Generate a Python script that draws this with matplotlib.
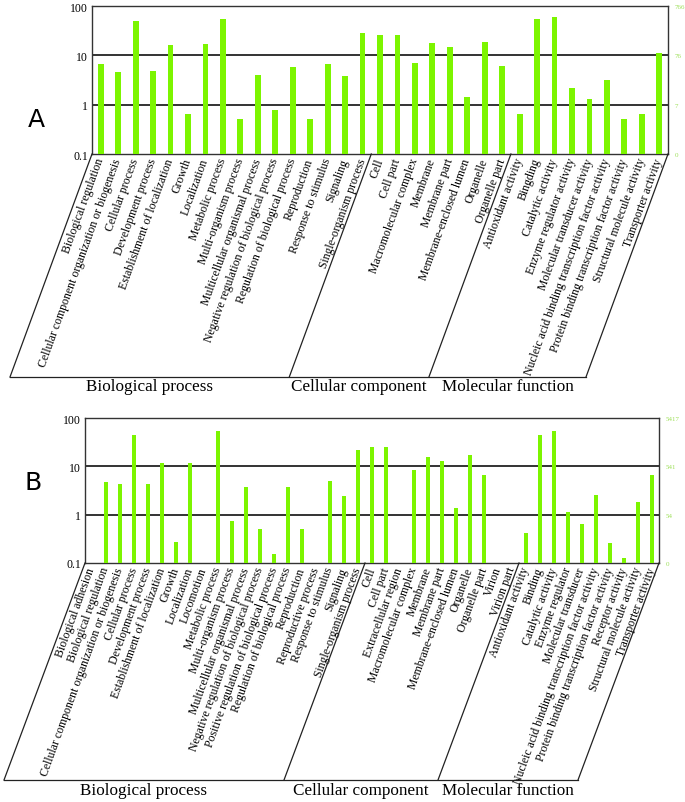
import numpy as np
import matplotlib
matplotlib.use("Agg")
import matplotlib.pyplot as plt
from matplotlib.lines import Line2D

# ---------------- Data ----------------
a_bp = ["Biological regulation", "Cellular component organization or biogenesis",
        "Cellular process", "Development process", "Establishment of localization",
        "Growth", "Localization", "Metabolic process", "Multi-organism process",
        "Multicellular organismal process", "Negative regulation of biological process",
        "Regulation of biological process", "Reproduction", "Response to stimulus",
        "Signaling", "Single-organism process"]
a_cc = ["Cell", "Cell part", "Macromolecular complex", "Membrane", "Membrane part",
        "Membrane-enclosed lumen", "Organelle", "Organelle part"]
a_mf = ["Antioxidant activity", "Bingding", "Catalytic activity",
        "Enzyme regulator activity", "Molecular transducer activity",
        "Nucleic acid binding transcription factor activity",
        "Protein binding transcription factor activity",
        "Structural molecule activity", "Transporter activity"]
a_values = [6.7, 4.5, 50, 4.9, 16.4, 0.64, 16.7, 55, 0.51, 4.0, 0.77, 5.9, 0.51, 6.7, 3.9, 28,
            26, 26, 6.9, 18, 15, 1.4, 18.4, 6.1,
            0.64, 54, 60, 2.2, 1.3, 3.1, 0.51, 0.64, 11.1]
a_right_labels = ["0", "7", "76", "766"]

b_bp = ["Biological adhesion", "Biological regulation",
        "Cellular component organization or biogenesis", "Cellular process",
        "Development process", "Establishment of localization", "Growth", "Localization",
        "Locomotion", "Metabolic process", "Multi-organism process",
        "Multicellular organismal process", "Negative regulation of biological process",
        "Positive regulation of biological process", "Regulation of biological process",
        "Reproduction", "Reproductive process", "Response to stimulus", "Signaling",
        "Single-organism process"]
b_cc = ["Cell", "Cell part", "Extracellular region", "Macromolecular complex", "Membrane",
        "Membrane part", "Membrane-enclosed lumen", "Organelle", "Organelle part",
        "Virion", "Virion part"]
b_mf = ["Antioxidant activity", "Binding", "Catalytic activity", "Enzyme regulator",
        "Molecular transducer", "Nucleic acid binding transcription factor activity",
        "Protein binding transcription factor activity", "Receptor activity",
        "Structural molecule activity", "Transporter activity"]
b_values = [0, 4.7, 4.4, 44, 4.3, 11.7, 0.27, 11.7, 0, 53.5, 0.75, 3.8, 0.50, 0.15, 3.8,
            0.51, 0, 4.9, 2.4, 22,
            25, 25, 0, 8.3, 15.6, 12.7, 1.4, 17, 6.6, 0, 0,
            0.42, 44, 53.5, 1.13, 0.65, 2.6, 0.26, 0.128, 1.85, 6.6]
b_right_labels = ["0", "54", "541", "5417"]

group_names = ["Biological process", "Cellular component", "Molecular function"]
left_ticks = [0.1, 1, 10, 100]
left_labels = ["0.1", "1", "10", "100"]

# ---------------- Style ----------------
W, H = 685, 803
DPI = 100
BAR = "#7CF500"
RIGHT_C = "#9ee05a"
SERIF = "Liberation Serif"

fig = plt.figure(figsize=(W / DPI, H / DPI), dpi=DPI)


def px_axes(l, t, r, b):
    return fig.add_axes([l / W, 1 - b / H, (r - l) / W, (b - t) / H])


def fig_line(p0, p1):
    # p0, p1 in pixel coordinates (origin top-left)
    fig.add_artist(Line2D([p0[0] / W, p1[0] / W], [1 - p0[1] / H, 1 - p1[1] / H],
                          transform=fig.transFigure, color="#222222", lw=0.9))


def panel(box, groups, values, right_labels, letter, letter_xy, slant, gy):
    l, t, r, b = box
    ax = px_axes(l, t, r, b)
    cats = groups[0] + groups[1] + groups[2]
    n = len(cats)
    x = np.arange(n)
    ax.set_yscale("log", nonpositive="clip")
    ax.bar(x, values, width=0.33, color=BAR, zorder=3)
    ax.set_xlim(-0.5, n - 0.5)
    ax.set_ylim(0.1, 100)
    for yv in (1, 10):
        ax.axhline(yv, color="#333333", lw=1.4, zorder=2)
    ax.set_yticks(left_ticks)
    ax.set_yticklabels(left_labels, fontsize=8.5, family=SERIF)
    ax.yaxis.set_minor_locator(matplotlib.ticker.NullLocator())
    ax.tick_params(axis="y", length=0, pad=3)
    ax.set_xticks(x)
    ax.set_xticklabels(cats, rotation=70, ha="right", va="center",
                       rotation_mode="anchor", fontsize=8.5, family=SERIF)
    ax.tick_params(axis="x", length=0, pad=3)
    for s in ax.spines.values():
        s.set_color("#333333")
        s.set_linewidth(1.0)

    ax2 = ax.twinx()
    ax2.set_yscale("log")
    ax2.set_ylim(0.1, 100)
    ax2.set_yticks(left_ticks)
    ax2.set_yticklabels(right_labels, fontsize=5, color=RIGHT_C, family=SERIF)
    ax2.yaxis.set_minor_locator(matplotlib.ticker.NullLocator())
    ax2.tick_params(axis="y", length=0, pad=5)
    for s in ax2.spines.values():
        s.set_visible(False)

    # slanted frame under the labels
    dx, dy = slant
    step = (r - l) / n
    bounds = [0, len(groups[0]), len(groups[0]) + len(groups[1]), n]
    bottoms = []
    for k in bounds:
        xt = l + k * step
        fig_line((xt, b), (xt + dx, b + dy))
        bottoms.append(xt + dx)
    fig_line((bottoms[0], b + dy), (bottoms[-1], b + dy))
    for i, name in enumerate(group_names):
        cx = (bottoms[i] + bottoms[i + 1]) / 2
        fig.text(cx / W, 1 - gy / H, name, ha="center", va="center",
                 fontsize=12.3, family=SERIF)
    fig.text(letter_xy[0] / W, 1 - letter_xy[1] / H, letter, ha="center", va="center",
             fontsize=18, family="DejaVu Sans")
    return ax


panel((92, 7, 668, 155), (a_bp, a_cc, a_mf), a_values, a_right_labels, "A",
      (36, 120), (-82, 223), 387)
panel((85, 419, 659, 564), (b_bp, b_cc, b_mf), b_values, b_right_labels, "B",
      (33, 483), (-81, 217), 791)

fig.savefig("out.png", dpi=DPI, facecolor="white")
